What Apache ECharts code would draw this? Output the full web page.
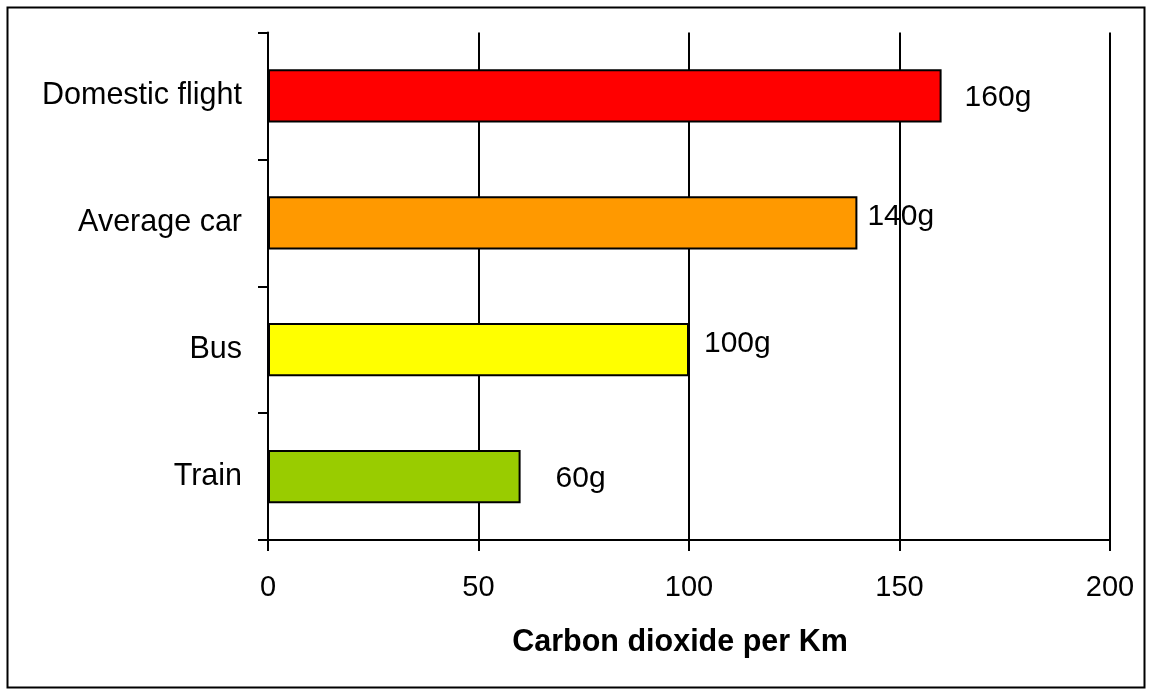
<!DOCTYPE html>
<html>
<head>
<meta charset="utf-8">
<script src="https://cdn.jsdelivr.net/npm/echarts@6/dist/echarts.min.js"></script>
<style>
html,body{margin:0;padding:0;background:#fff;}
#chart{width:1152px;height:693px;}
</style>
</head>
<body>
<div id="chart"></div>
<script>
// Data
const categories = ['Train', 'Bus', 'Average car', 'Domestic flight'];
const values = [60, 100, 140, 160];
const valueLabels = ['60g', '100g', '140g', '160g'];
const xTicks = [0, 50, 100, 150, 200];

// Styles (kept separate from data)
const barColors = ['#99CC00', '#FFFF00', '#FF9900', '#FF0000'];
const labelOffsets = [[35, 2], [15, -6], [10, -6], [23, 2]];

const FONT = '"Liberation Sans", Arial, sans-serif';

const chart = echarts.init(document.getElementById('chart'), null, {renderer: 'canvas'});

const seriesData = values.map((v, i) => ({
  value: v,
  itemStyle: {color: barColors[i]},
  label: {offset: labelOffsets[i], formatter: valueLabels[i]}
}));

chart.setOption({
  backgroundColor: '#fff',
  animation: false,
  grid: {left: 268, right: 42, top: 32.5, bottom: 153, containLabel: false},
  xAxis: {
    type: 'value',
    min: xTicks[0],
    max: xTicks[xTicks.length - 1],
    interval: xTicks[1] - xTicks[0],
    name: 'Carbon dioxide per Km',
    nameLocation: 'middle',
    nameGap: 87,
    nameTextStyle: {fontFamily: FONT, fontSize: 30.5, fontWeight: 'bold', color: '#000', padding: [0, 18, 0, 0]},
    axisLine: {show: true, lineStyle: {color: '#000', width: 2}},
    axisTick: {show: true, length: 11, lineStyle: {color: '#000', width: 2}},
    axisLabel: {fontFamily: FONT, fontSize: 29, color: '#000', margin: 33},
    splitLine: {show: true, lineStyle: {color: '#000', width: 2}}
  },
  yAxis: {
    type: 'category',
    data: categories,
    axisLine: {show: true, lineStyle: {color: '#000', width: 2}},
    axisTick: {show: true, length: 10, inside: false, lineStyle: {color: '#000', width: 2}},
    axisLabel: {fontFamily: FONT, fontSize: 30.5, color: '#000', margin: 26},
    splitLine: {show: false}
  },
  series: [{
    type: 'bar',
    data: seriesData,
    barCategoryGap: '58%',
    itemStyle: {borderColor: '#000', borderWidth: 2},
    label: {
      show: true,
      position: 'right',
      distance: 0,
      fontFamily: FONT,
      fontSize: 30,
      color: '#000'
    }
  }],
  graphic: [{
    type: 'rect',
    shape: {x: 7.5, y: 7.5, width: 1137, height: 680},
    style: {fill: null, stroke: '#000', lineWidth: 2},
    silent: true
  }]
});
</script>
</body>
</html>
